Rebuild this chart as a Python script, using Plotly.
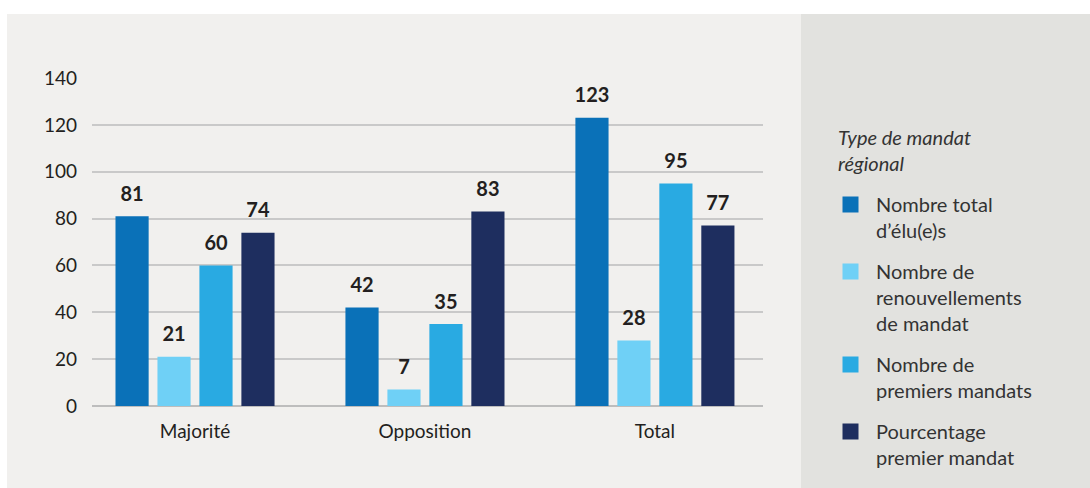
import plotly.graph_objects as go

categories = ["Majorité", "Opposition", "Total"]
series_names = [
    "Nombre total<br>d’élu(e)s",
    "Nombre de<br>renouvellements<br>de mandat",
    "Nombre de<br>premiers mandats",
    "Pourcentage<br>premier mandat",
]
legend_title = "Type de mandat<br>régional"
total_elus = [81, 42, 123]
renouvellements = [21, 7, 28]
premiers_mandats = [60, 35, 95]
pourcentage_premier = [74, 83, 77]
y_ticks = [0, 20, 40, 60, 80, 100, 120, 140]

series_values = [total_elus, renouvellements, premiers_mandats, pourcentage_premier]
colors = ["#0a71b8", "#6fd0f6", "#29aae2", "#1e2e5f"]

FONT = "Lato"
TEXT = "#231f20"
LEGEND_TEXT = "#333333"

# plot area in pixels
W, H = 1090, 488
L, R, T, B = 92, 327, 78, 82
pw, ph = W - L - R, H - T - B


def px_x(p):
    return (p - L) / pw


def px_y(p):
    return (H - B - p) / ph


fig = go.Figure()

for i, (name, vals, col) in enumerate(zip(series_names, series_values, colors)):
    fig.add_trace(go.Bar(
        x=categories, y=vals, name=name, marker=dict(color=col, line=dict(width=0)),
        offsetgroup=str(i), showlegend=False, hoverinfo="skip",
    ))
    # value labels above each bar
    fig.add_trace(go.Scatter(
        x=categories, y=vals, mode="markers+text", text=[str(v) for v in vals],
        textposition="top center", offsetgroup=str(i),
        marker=dict(size=15, opacity=0),
        textfont=dict(family=FONT, size=20, color=TEXT, weight="bold"),
        showlegend=False, hoverinfo="skip", cliponaxis=False,
    ))
    # legend swatch
    fig.add_trace(go.Scatter(
        x=[None], y=[None], mode="markers", name=name,
        marker=dict(symbol="square", size=16, color=col),
        legendgroup=str(i),
    ))

fig.update_layout(
    width=W, height=H,
    margin=dict(l=L, r=R, t=T, b=B, pad=0, autoexpand=False),
    barmode="group", bargap=0.27, bargroupgap=0.21,
    scattermode="group", scattergap=0.27,
    paper_bgcolor="#ffffff", plot_bgcolor="rgba(0,0,0,0)",
    font=dict(family=FONT, size=19, color=TEXT),
    xaxis=dict(
        range=[-0.448, 2.47], showgrid=False, zeroline=False, showline=False,
        ticks="", ticklabelstandoff=12, tickfont=dict(size=19, color=TEXT),
        fixedrange=True, automargin=False,
    ),
    yaxis=dict(
        range=[0, 140], tickvals=y_ticks, showgrid=True, gridcolor="#c9c9c9",
        gridwidth=1.5, zeroline=True, zerolinecolor="#bdbdbd", zerolinewidth=2,
        showline=False, ticks="", ticklabelstandoff=14,
        tickfont=dict(size=19, color=TEXT), fixedrange=True, automargin=False,
    ),
    legend=dict(
        x=px_x(835), y=px_y(185), xanchor="left", yanchor="top",
        bgcolor="rgba(0,0,0,0)", valign="top", tracegroupgap=12,
        font=dict(family=FONT, size=20, color=LEGEND_TEXT),
        itemwidth=41, indentation=-10,
    ),
    annotations=[
        dict(text="<i>" + legend_title + "</i>", xref="paper", yref="paper",
             x=px_x(836), y=px_y(123), xanchor="left", yanchor="top",
             align="left", showarrow=False,
             font=dict(family=FONT, size=20, color=LEGEND_TEXT)),
    ],
    shapes=[
        dict(type="rect", xref="paper", yref="paper", layer="below",
             x0=px_x(7), x1=px_x(801), y0=px_y(490), y1=px_y(14),
             fillcolor="#f1f0ee", line=dict(width=0)),
        dict(type="rect", xref="paper", yref="paper", layer="below",
             x0=px_x(801), x1=px_x(1092), y0=px_y(490), y1=px_y(14),
             fillcolor="#e2e2df", line=dict(width=0)),
    ],
)

fig.write_html("out.html", config={"displayModeBar": False})
